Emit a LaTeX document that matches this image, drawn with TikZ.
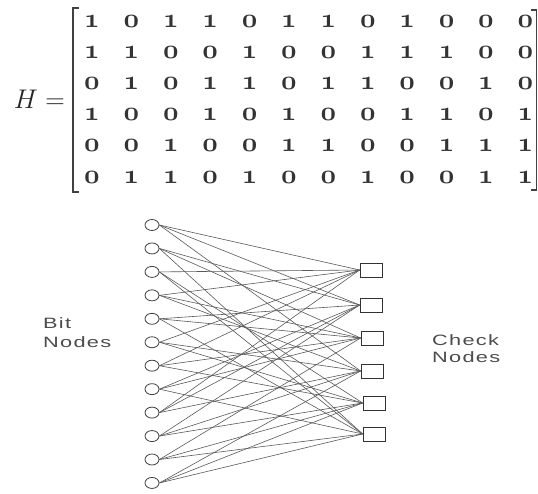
\documentclass[tikz,border=0pt]{standalone}
\usepackage{fontspec}
\usepackage{fix-cm}
\newfontfamily\labfont[LetterSpace=6]{Liberation Sans}
\newcommand\oszero{\ensuremath{\mathchar"130}}
\newcommand\osone{\ensuremath{\mathchar"131}}
\tikzset{
  entry/.style={anchor=base, inner sep=0pt, font=\fontsize{27}{30}\selectfont\boldmath, text=black!80},
  bracket/.style={line width=1.1pt, draw=black!75},
  bitnode/.style={draw=black!75, line width=0.8pt, ellipse, minimum width=14pt, minimum height=11pt, inner sep=0pt},
  checknode/.style={draw=black!80, line width=0.8pt, rectangle, minimum width=22pt, minimum height=14pt, inner sep=0pt},
  edge/.style={draw=black!65, line width=0.6pt},
  lab/.style={anchor=base west, inner sep=0pt, font=\labfont\fontsize{15}{18}\selectfont, text=black!70}
}
\usetikzlibrary{shapes.geometric}
\begin{document}
\begin{tikzpicture}[x=1pt,y=-1pt]
\useasboundingbox (0,0) rectangle (538,493);
% H =
\node[anchor=base east, inner sep=0pt, font=\fontsize{27}{30}\selectfont, text=black!85] (Hlabel) at (65,108) {$H=$};
% brackets
\draw[bracket] (79,8) -- (73,8) -- (73,192) -- (79,192);
\draw[bracket] (531,10) -- (536.5,10) -- (536.5,190) -- (531,190);
% bit nodes
\foreach \k in {1,...,12}
  \node[bitnode] (b\k) at (152, {225+23.45*(\k-1)}) {};
% check nodes
\foreach \i/\yy/\xx in {1/270/371,2/305/371,3/338/372,4/371/372,5/403/374,6/434/374}
  \node[checknode] (c\i) at (\xx,\yy) {};
% matrix entries and edges
\foreach \row [count=\i] in {{1,0,1,1,0,1,1,0,1,0,0,0},{1,1,0,0,1,0,0,1,1,1,0,0},{0,1,0,1,1,0,1,1,0,0,1,0},{1,0,0,1,0,1,0,0,1,1,0,1},{0,0,1,0,0,1,1,0,0,1,1,1},{0,1,1,0,1,0,0,1,0,0,1,1}}{
  \foreach \v [count=\j] in \row {
    \node[entry] (m-\i-\j) at ({92+39.4*(\j-1)}, {27+31.2*(\i-1)}) {\ifnum\v=1 \osone\else\oszero\fi};
    \ifnum\v=1 \draw[edge] (b\j.east) -- (c\i.west);\fi
  }
}
% labels
\node[lab] (bit1) at (43,328) {\scalebox{1.45}[1]{Bit}};
\node[lab] (bit2) at (43,347) {\scalebox{1.45}[1]{Nodes}};
\node[lab] (chk1) at (432,345) {\scalebox{1.45}[1]{Check}};
\node[lab] (chk2) at (432,362) {\scalebox{1.45}[1]{Nodes}};
\end{tikzpicture}
\end{document}
